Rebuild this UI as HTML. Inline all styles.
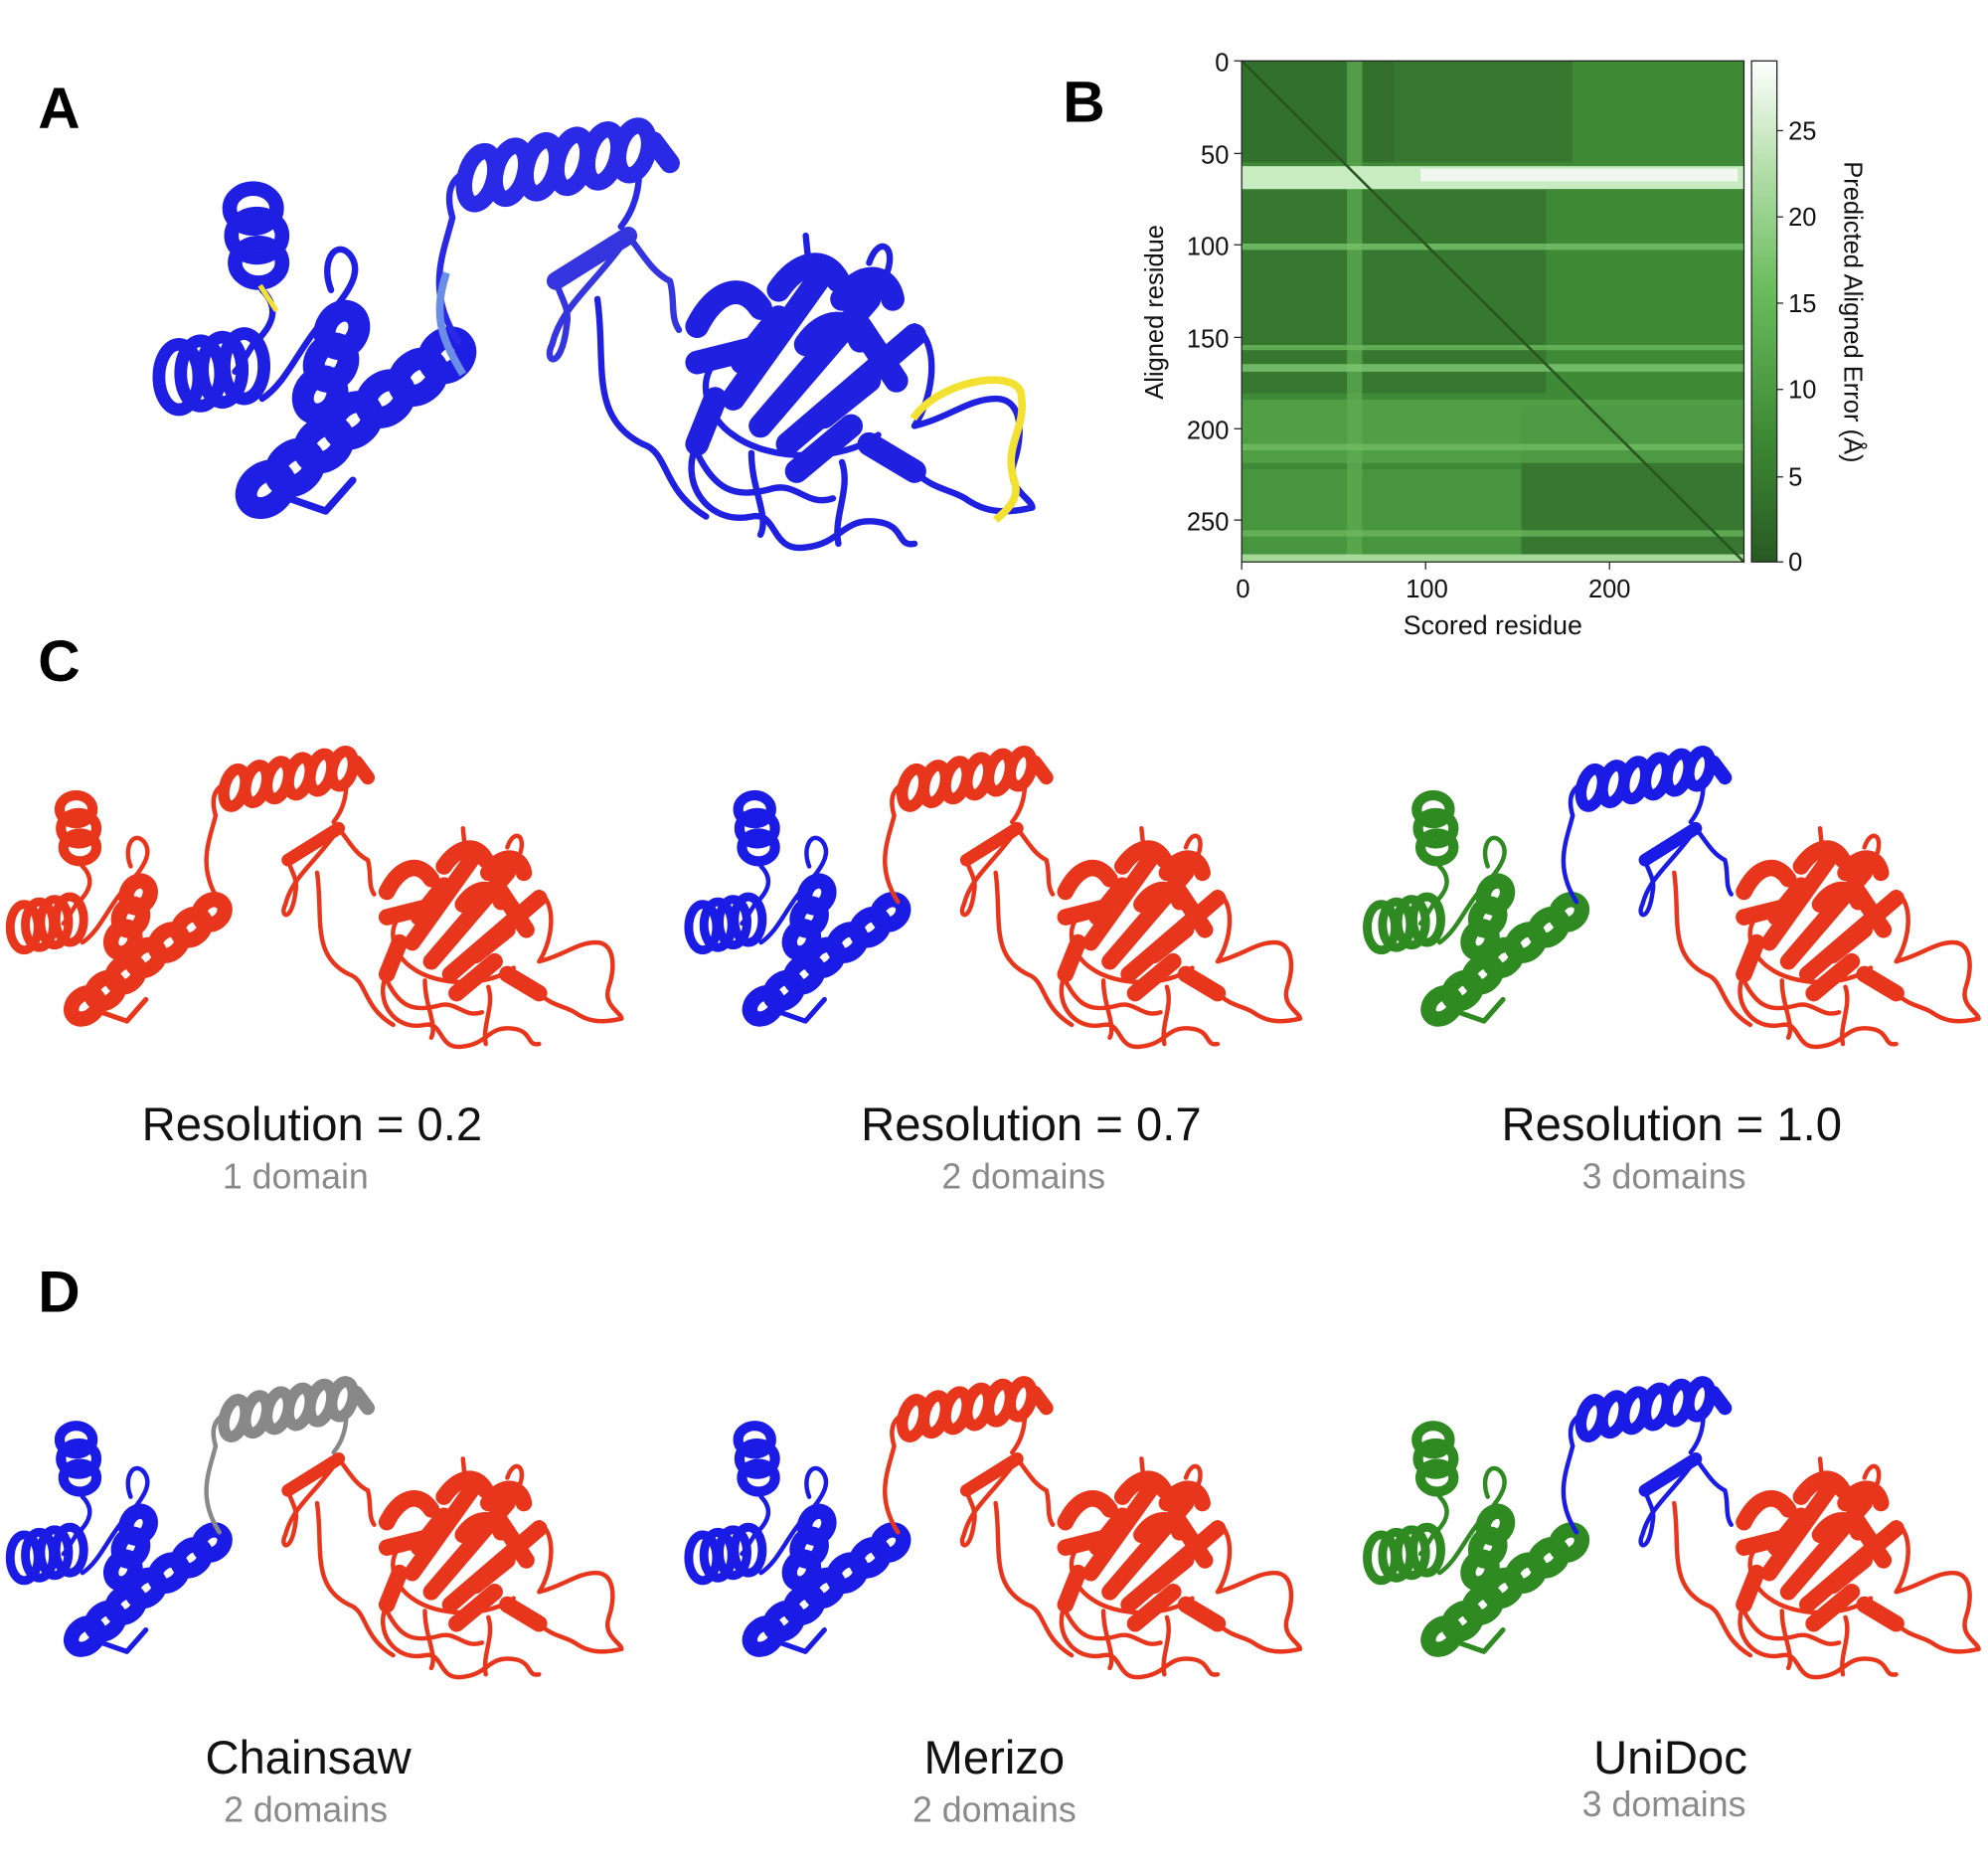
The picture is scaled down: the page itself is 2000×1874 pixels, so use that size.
<!DOCTYPE html>
<html><head><meta charset="utf-8"><style>
html,body{margin:0;padding:0;background:#fff}
svg{display:block}
text{font-family:"Liberation Sans",sans-serif}
.pl{font-weight:bold;font-size:46px}
.tk{font-size:20px;fill:#111}
.rl{font-size:37px;fill:#111}
.sl{font-size:28px;fill:#8a8a8a}
</style></head><body>
<svg width="2000" height="1874" viewBox="0 0 1567.4 1468.7" xmlns="http://www.w3.org/2000/svg">
<defs>
<linearGradient id="cb" x1="0" y1="1" x2="0" y2="0">
<stop offset="0" stop-color="#285a23"/><stop offset="0.25" stop-color="#3d8a34"/><stop offset="0.55" stop-color="#6bbd5e"/><stop offset="0.8" stop-color="#b9e1b0"/><stop offset="1" stop-color="#ffffff"/>
</linearGradient>
<symbol id="prot" viewBox="0 0 490 240" overflow="visible">
 <g fill="none" stroke-linecap="round" stroke-linejoin="round">
 <g stroke="var(--l)" fill="none">
  <ellipse cx="55" cy="45" rx="13" ry="11" stroke-width="8"/>
  <ellipse cx="57" cy="60" rx="14" ry="12" stroke-width="8"/>
  <ellipse cx="58" cy="75" rx="13" ry="11" stroke-width="8"/>
  <path d="M60 90 C70 100 66 110 55 120 C50 128 48 132 45 135" stroke-width="3.5"/>
  <ellipse cx="14" cy="138" rx="11" ry="18" stroke-width="7"/>
  <ellipse cx="26" cy="136" rx="11" ry="18" stroke-width="7"/>
  <ellipse cx="38" cy="134" rx="11" ry="18" stroke-width="7"/>
  <ellipse cx="50" cy="132" rx="11" ry="18" stroke-width="7"/>
  <path d="M60 150 C75 140 80 120 100 100 C110 88 115 78 108 70 C100 62 92 75 98 90" stroke-width="3.5"/>
  <g stroke-width="12">
   <ellipse cx="62" cy="200" rx="12" ry="9" transform="rotate(-40 62 200)"/>
   <ellipse cx="78" cy="188" rx="12" ry="9" transform="rotate(-40 78 188)"/>
   <ellipse cx="94" cy="175" rx="12" ry="9" transform="rotate(-40 94 175)"/>
   <ellipse cx="110" cy="162" rx="12" ry="9" transform="rotate(-40 110 162)"/>
   <ellipse cx="92" cy="148" rx="11" ry="9" transform="rotate(-60 92 148)"/>
   <ellipse cx="98" cy="130" rx="11" ry="9" transform="rotate(-60 98 130)"/>
   <ellipse cx="104" cy="112" rx="11" ry="9" transform="rotate(-60 104 112)"/>
   <ellipse cx="128" cy="150" rx="12" ry="9" transform="rotate(-40 128 150)"/>
   <ellipse cx="146" cy="138" rx="12" ry="9" transform="rotate(-40 146 138)"/>
   <ellipse cx="162" cy="126" rx="11" ry="9" transform="rotate(-40 162 126)"/>
  </g>
  <path d="M75 205 L95 212 L110 195" stroke-width="4"/>
 </g>
 <g stroke="var(--t)">
  <path d="M168 118 C150 90 160 70 165 50 C162 40 162 30 172 25" stroke-width="3.5"/>
  <g stroke-width="9">
   <ellipse cx="180" cy="28" rx="8" ry="15" transform="rotate(15 180 28)"/>
   <ellipse cx="197" cy="25" rx="8" ry="15" transform="rotate(15 197 25)"/>
   <ellipse cx="214" cy="22" rx="8" ry="15" transform="rotate(15 214 22)"/>
   <ellipse cx="231" cy="19" rx="8" ry="15" transform="rotate(15 231 19)"/>
   <ellipse cx="248" cy="16" rx="8" ry="15" transform="rotate(15 248 16)"/>
   <ellipse cx="265" cy="13" rx="8" ry="14" transform="rotate(15 265 13)"/>
  </g>
  <path d="M276 8 L285 20" stroke-width="11"/>
  <path d="M268 25 C268 40 262 50 258 55" stroke-width="3.5"/>
 </g>
 <g stroke="var(--s)">
  <path d="M262 60 L222 85" stroke-width="10"/>
  <path d="M258 66 C240 90 225 100 220 120 C215 130 225 135 228 110 C230 100 225 95 222 85" stroke-width="3.5"/>
  <path d="M262 60 C270 70 275 80 285 85 C288 95 285 105 290 112" stroke-width="3.5"/>
 </g>
 <g stroke="var(--r)">
  <path d="M245 95 C250 130 240 160 270 175 C285 180 280 200 305 215" stroke-width="3.5"/>
  <g stroke-width="13">
   <path d="M300 110 C310 90 325 85 335 100"/>
   <path d="M320 150 L370 80"/>
   <path d="M335 165 L395 95"/>
   <path d="M350 175 L420 115"/>
   <path d="M310 150 L300 175"/>
   <path d="M345 90 C355 75 370 70 378 85"/>
   <path d="M360 120 C370 105 385 105 390 118"/>
   <path d="M380 95 C390 80 405 80 408 95"/>
   <path d="M325 130 L345 105"/>
   <path d="M370 160 L395 140"/>
   <path d="M395 175 L420 190"/>
   <path d="M390 110 L410 140"/>
   <path d="M300 130 L340 120"/>
   <path d="M355 190 L385 165"/>
  </g>
  <g stroke-width="3.5">
   <path d="M300 175 C290 195 305 220 330 215 C345 212 340 235 360 232 C380 230 380 215 400 218 C415 220 410 232 420 230"/>
   <path d="M420 110 C435 120 430 150 420 165 C440 160 450 150 465 150 C480 150 480 170 475 185 C470 200 485 205 485 210"/>
   <path d="M420 190 C430 200 440 200 448 205 C455 210 465 215 485 210"/>
   <path d="M330 180 C330 200 340 215 335 225"/>
   <path d="M360 60 L362 80 M395 75 C400 60 410 65 405 80"/>
   <path d="M310 130 C300 140 305 160 320 170 C340 185 380 185 400 170"/>
   <path d="M380 185 C385 200 375 215 378 230"/>
   <path d="M300 180 C310 200 320 205 340 200 C355 195 360 210 375 205"/>
  </g>
 </g>
 </g>
</symbol>
</defs>

<text class="pl" x="30" y="101">A</text>
<text class="pl" x="838" y="96">B</text>
<text class="pl" x="30" y="537">C</text>
<text class="pl" x="30" y="1034">D</text>

<g style="--l:#1f1fe3;--t:#2a2ae6;--s:#3535e0;--r:#2020e0">
<use href="#prot" x="121" y="100" width="700" height="343"/>
</g>
<path d="M352 215 C340 250 350 270 365 295" stroke="#6a8de8" stroke-width="6" fill="none"/>
<path d="M720 330 C740 300 800 290 805 310 C810 340 790 350 800 380 C805 395 790 405 785 410" stroke="#f2e130" stroke-width="6" fill="none"/>
<path d="M205 225 L218 245" stroke="#f2e130" stroke-width="4"/>

<g>
<rect x="979" y="48" width="396" height="395" fill="#3f8a37"/>
<rect x="979" y="48" width="120" height="80" fill="#30692b" opacity="0.8"/>
<rect x="1090" y="48" width="150" height="80" fill="#346f2e" opacity="0.7"/>
<rect x="979" y="150" width="240" height="160" fill="#33702d" opacity="0.7"/>
<rect x="1200" y="320" width="175" height="120" fill="#346f2e" opacity="0.7"/>
<rect x="979" y="315" width="396" height="50" fill="#58a84c" opacity="0.7"/>
<rect x="979" y="370" width="220" height="73" fill="#4c9a41" opacity="0.7"/>
<rect x="1062" y="48" width="12" height="395" fill="#5fae53" opacity="0.7"/>
<rect x="979" y="131" width="396" height="18" fill="#c9ebc2"/>
<rect x="1120" y="133" width="250" height="10" fill="#eef8ec"/>
<rect x="979" y="192" width="396" height="5" fill="#78c26b" opacity="0.8"/>
<rect x="979" y="272" width="396" height="4" fill="#6ab95d" opacity="0.8"/>
<rect x="979" y="287" width="396" height="6" fill="#80c873" opacity="0.8"/>
<rect x="979" y="350" width="396" height="5" fill="#6fbc62" opacity="0.8"/>
<rect x="979" y="418" width="396" height="5" fill="#6fbc62" opacity="0.7"/>
<rect x="979" y="437" width="396" height="6" fill="#a5d99a"/>
<line x1="979" y1="48" x2="1375" y2="443" stroke="#27561f" stroke-width="2"/>
<rect x="979" y="48" width="396" height="395" fill="none" stroke="#222" stroke-width="1"/>
<rect x="1381" y="48" width="20" height="395" fill="url(#cb)" stroke="#222" stroke-width="1"/>
<g stroke="#222" stroke-width="1">
<line x1="973" y1="48" x2="979" y2="48"/><line x1="973" y1="121" x2="979" y2="121"/><line x1="973" y1="193" x2="979" y2="193"/><line x1="973" y1="266" x2="979" y2="266"/><line x1="973" y1="338" x2="979" y2="338"/><line x1="973" y1="410" x2="979" y2="410"/>
<line x1="979" y1="443" x2="979" y2="449"/><line x1="1124" y1="443" x2="1124" y2="449"/><line x1="1269" y1="443" x2="1269" y2="449"/>
<line x1="1401" y1="443" x2="1406" y2="443"/><line x1="1401" y1="376" x2="1406" y2="376"/><line x1="1401" y1="307" x2="1406" y2="307"/><line x1="1401" y1="239" x2="1406" y2="239"/><line x1="1401" y1="171" x2="1406" y2="171"/><line x1="1401" y1="103" x2="1406" y2="103"/>
</g>
<g class="tk" text-anchor="end">
<text x="969" y="56">0</text><text x="969" y="129">50</text><text x="969" y="201">100</text><text x="969" y="274">150</text><text x="969" y="346">200</text><text x="969" y="418">250</text>
</g>
<g class="tk" text-anchor="middle">
<text x="980" y="471">0</text><text x="1125" y="471">100</text><text x="1269" y="471">200</text>
<text x="1177" y="500" font-size="21">Scored residue</text>
</g>
<text class="tk" x="917" y="246" font-size="21" text-anchor="middle" transform="rotate(-90 917 246)">Aligned residue</text>
<g class="tk">
<text x="1410" y="450">0</text><text x="1410" y="383">5</text><text x="1410" y="314">10</text><text x="1410" y="246">15</text><text x="1410" y="178">20</text><text x="1410" y="110">25</text>
</g>
<text class="tk" x="1454" y="246" font-size="21" text-anchor="middle" transform="rotate(90 1454 246)">Predicted Aligned Error (Å)</text>

<g style="--l:#e8361d;--t:#e8361d;--s:#e8361d;--r:#e8361d"><use href="#prot" x="5" y="593" width="490" height="240"/></g>
<g style="--l:#1b1be6;--t:#e8361d;--s:#e8361d;--r:#e8361d"><use href="#prot" x="540" y="593" width="490" height="240"/></g>
<g style="--l:#2f8a22;--t:#1b1be6;--s:#1b1be6;--r:#e8361d"><use href="#prot" x="1075" y="593" width="490" height="240"/></g>
<g text-anchor="middle">
<text class="rl" x="246" y="899">Resolution = 0.2</text><text class="sl" x="233" y="937">1 domain</text>
<text class="rl" x="813" y="899">Resolution = 0.7</text><text class="sl" x="807" y="937">2 domains</text>
<text class="rl" x="1318" y="899">Resolution = 1.0</text><text class="sl" x="1312" y="937">3 domains</text>
</g>

<g style="--l:#1b1be6;--t:#888888;--s:#e8361d;--r:#e8361d"><use href="#prot" x="5" y="1090" width="490" height="240"/></g>
<g style="--l:#1b1be6;--t:#e8361d;--s:#e8361d;--r:#e8361d"><use href="#prot" x="540" y="1090" width="490" height="240"/></g>
<g style="--l:#2f8a22;--t:#1b1be6;--s:#1b1be6;--r:#e8361d"><use href="#prot" x="1075" y="1090" width="490" height="240"/></g>
<g text-anchor="middle">
<text class="rl" x="243" y="1398">Chainsaw</text><text class="sl" x="241" y="1436">2 domains</text>
<text class="rl" x="784" y="1398">Merizo</text><text class="sl" x="784" y="1436">2 domains</text>
<text class="rl" x="1317" y="1398">UniDoc</text><text class="sl" x="1312" y="1432">3 domains</text>
</g>
</svg>
</body></html>
